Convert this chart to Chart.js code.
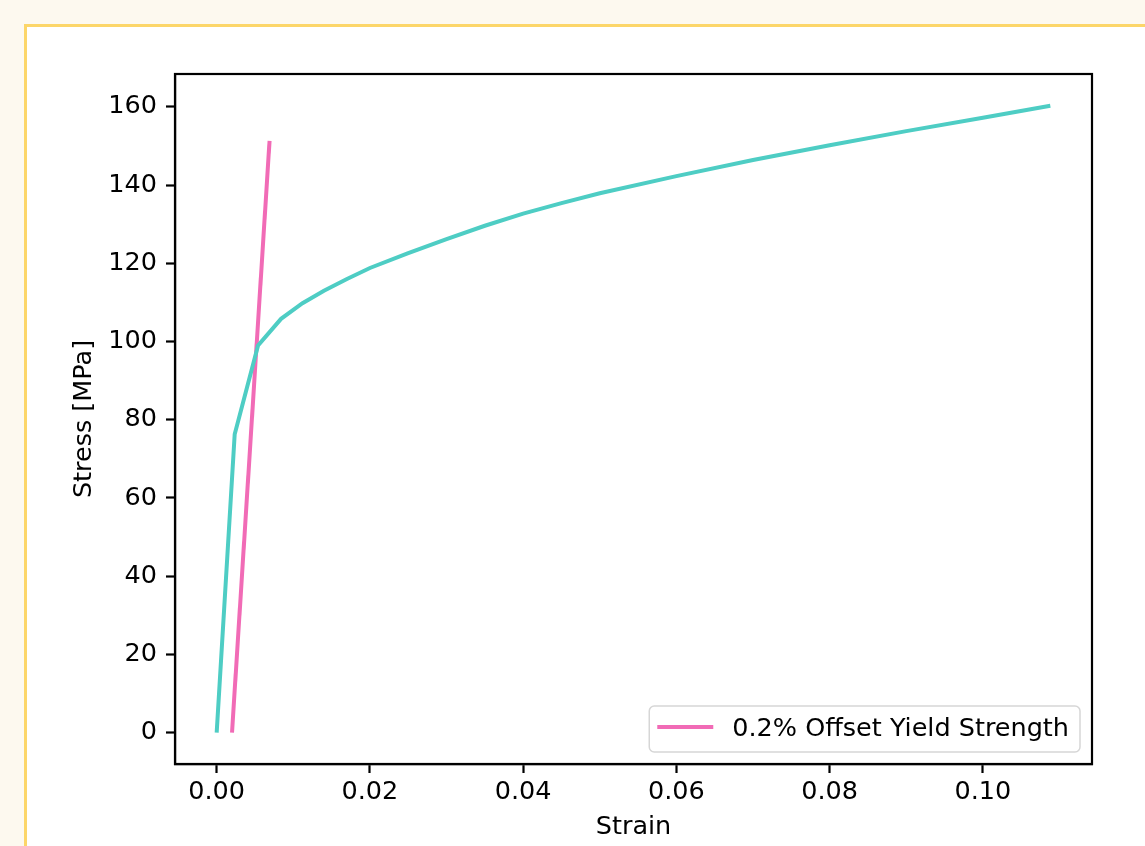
<!DOCTYPE html>
<html><head><meta charset="utf-8">
<script src="https://cdn.jsdelivr.net/npm/chart.js@4"></script>
<style>
html,body{margin:0;padding:0;width:1145px;height:846px;overflow:hidden;background:#fdf9ef;}
#frame{position:absolute;left:24px;top:24px;width:1200px;height:900px;border:3px solid #fcd669;background:#fff;box-sizing:border-box}
#wrap{position:absolute;left:0;top:0;width:1145px;height:846px}
</style></head><body>
<div id="frame"></div>
<div id="wrap"><canvas id="c" width="1145" height="846"></canvas></div>
<script>
// Stress-strain curve
const curveStrain = [0, 0.00235, 0.0054, 0.0084, 0.0112, 0.014, 0.017, 0.02, 0.025, 0.03, 0.035, 0.04, 0.045, 0.05, 0.06, 0.07, 0.08, 0.09, 0.10, 0.1088];
const curveStress = [0, 76.3, 99.0, 105.8, 109.8, 113.0, 116.0, 118.8, 122.6, 126.2, 129.6, 132.7, 135.4, 137.9, 142.3, 146.4, 150.2, 153.8, 157.2, 160.3];
// 0.2% offset line
const offsetStrain = [0.002, 0.0069];
const offsetStress = [0, 151.3];
const offsetLabel = '0.2% Offset Yield Strength';
// Ticks
const xTicks = [0, 0.02, 0.04, 0.06, 0.08, 0.10];
const yTicks = [0, 20, 40, 60, 80, 100, 120, 140, 160];

const FONT = {family: 'DejaVu Sans', size: 25.5};
const CYAN = '#4ecdc4';
const PINK = '#f16bb6';

const framePlugin = {
  id: 'frame',
  afterDatasetsDraw(chart) {
    const {ctx, chartArea: a} = chart;
    ctx.save();
    ctx.strokeStyle = '#000';
    ctx.lineWidth = 2.2;
    ctx.strokeRect(a.left, a.top, a.right - a.left, a.bottom - a.top);
    ctx.restore();
  },
  afterDraw(chart) {
    const {ctx, chartArea: a} = chart;
    const items = chart.data.datasets.filter(d => d.label);
    if (!items.length) return;
    ctx.save();
    ctx.font = `${FONT.size}px ${FONT.family}`;
    const ds = items[0];
    const tw = ctx.measureText(ds.label).width;
    const padL = 8, handle = 56, hpad = 19, padR = 11, h = 46;
    const w = padL + handle + hpad + tw + padR;
    const right = a.right - 12, bottom = a.bottom - 12;
    const left = right - w, top = bottom - h;
    ctx.beginPath();
    ctx.roundRect(left, top, w, h, 5);
    ctx.fillStyle = 'rgba(255,255,255,0.8)';
    ctx.fill();
    ctx.strokeStyle = '#d6d6d6';
    ctx.lineWidth = 1.5;
    ctx.stroke();
    const cy = top + h / 2;
    ctx.beginPath();
    ctx.moveTo(left + padL, cy - 2);
    ctx.lineTo(left + padL + handle, cy - 2);
    ctx.strokeStyle = ds.borderColor;
    ctx.lineWidth = 4;
    ctx.stroke();
    ctx.fillStyle = '#000';
    ctx.textBaseline = 'middle';
    ctx.textAlign = 'left';
    ctx.fillText(ds.label, left + padL + handle + hpad, cy);
    ctx.restore();
  }
};

new Chart(document.getElementById('c'), {
  type: 'scatter',
  data: {
    datasets: [
      {
        data: curveStrain.map((x, i) => ({x, y: curveStress[i]})),
        showLine: true, borderColor: CYAN, borderWidth: 4, pointRadius: 0, tension: 0
      },
      {
        label: offsetLabel,
        data: offsetStrain.map((x, i) => ({x, y: offsetStress[i]})),
        showLine: true, borderColor: PINK, borderWidth: 4, pointRadius: 0, tension: 0
      }
    ]
  },
  options: {
    responsive: false,
    animation: false,
    devicePixelRatio: 1,
    layout: {padding: {left: 0, top: 74, right: 53, bottom: 0}},
    plugins: {legend: {display: false}, tooltip: {enabled: false}},
    scales: {
      x: {
        type: 'linear', min: -0.00544, max: 0.11424,
        afterBuildTicks: s => { s.ticks = xTicks.map(v => ({value: v})); },
        afterFit: s => { s.height = 82; },
        ticks: {font: FONT, color: '#000', padding: 4, maxRotation: 0, autoSkip: false,
          callback: v => Number(v).toFixed(2)},
        grid: {drawOnChartArea: false, drawTicks: true, tickLength: 9, tickColor: '#000', tickWidth: 2.2},
        border: {display: true, color: '#000', width: 2.2},
        title: {display: true, text: 'Strain', font: FONT, color: '#000', padding: {top: 0, bottom: 3}}
      },
      y: {
        type: 'linear', min: -8.02, max: 168.4,
        afterBuildTicks: s => { s.ticks = yTicks.map(v => ({value: v})); },
        afterFit: s => { s.width = 175; },
        ticks: {font: FONT, color: '#000', padding: 9, autoSkip: false,
          callback: v => String(v)},
        grid: {drawOnChartArea: false, drawTicks: true, tickLength: 9, tickColor: '#000', tickWidth: 2.2},
        border: {display: true, color: '#000', width: 2.2},
        title: {display: true, text: 'Stress [MPa]', font: FONT, color: '#000', padding: {top: 69, bottom: 0}}
      }
    }
  },
  plugins: [framePlugin]
});
</script>
</body></html>
